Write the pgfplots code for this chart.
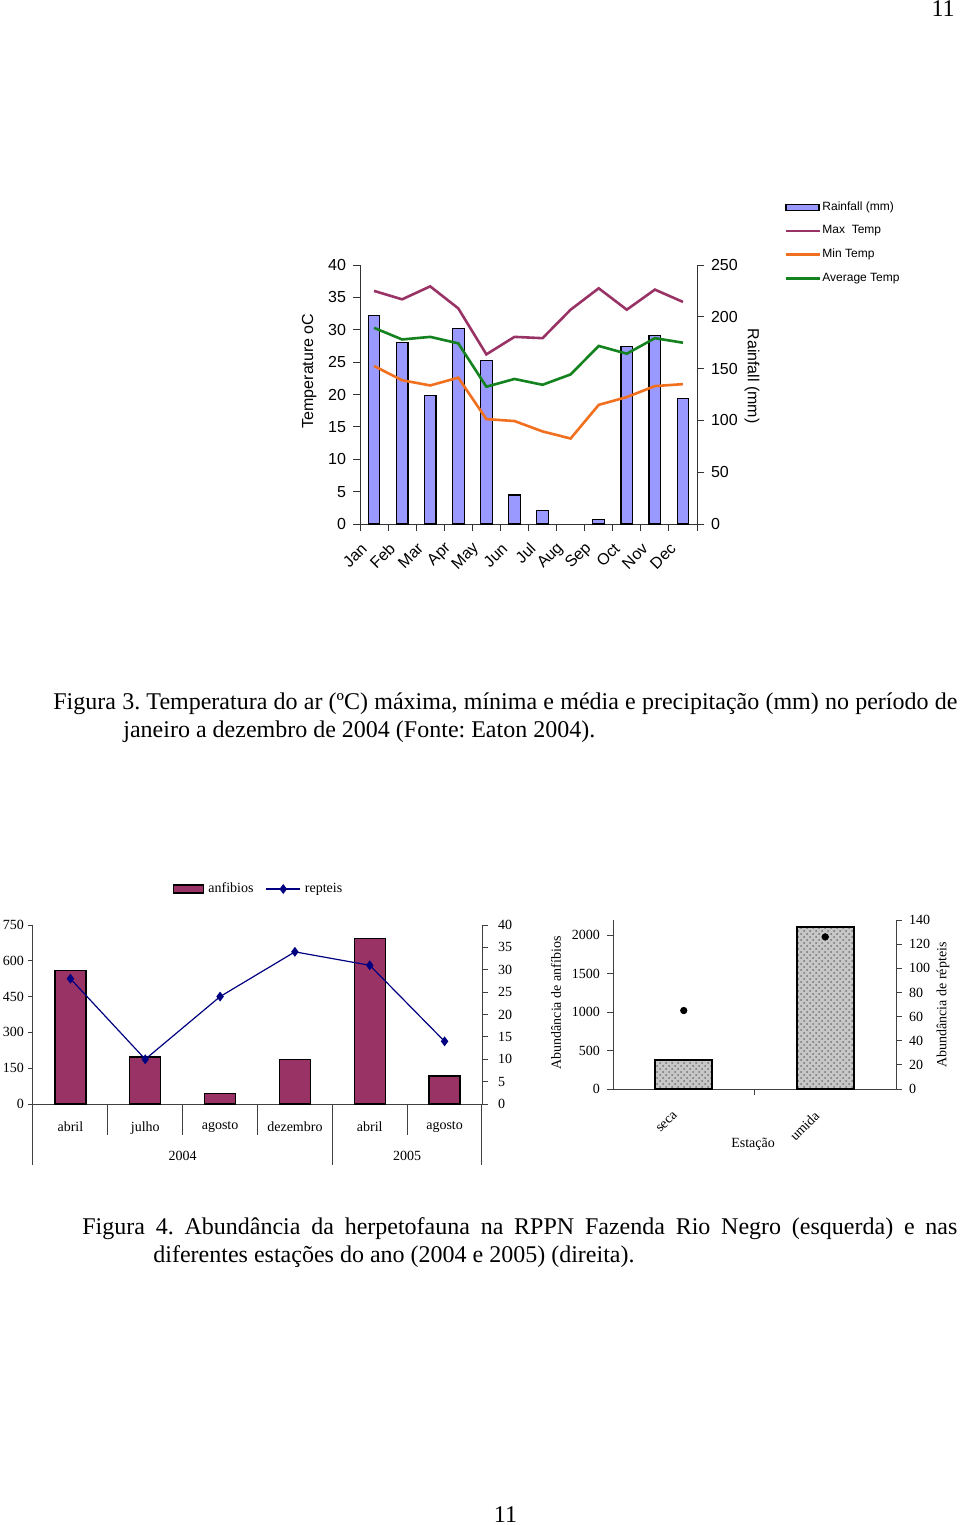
\documentclass[border=0pt]{standalone}
\usepackage{fontspec}
\setmainfont{Liberation Serif}
\newfontfamily\arial{Liberation Sans}
\usepackage{pgfplots}
\pgfplotsset{compat=1.18}
\usetikzlibrary{patterns}

\definecolor{barblue}{RGB}{153,153,255}
\definecolor{maxc}{RGB}{153,51,102}
\definecolor{minc}{RGB}{240,112,32}
\definecolor{avgc}{RGB}{20,130,30}
\definecolor{anfib}{RGB}{153,51,102}
\definecolor{rept}{RGB}{0,0,128}

\newcommand{\af}{\arial\fontsize{8}{9.6}\selectfont}
\newcommand{\tf}{\fontsize{7}{8.4}\selectfont}

\pgfplotsset{every axis/.append style={/pgf/number format/1000 sep={}}}

\begin{document}
\frenchspacing
\begin{tikzpicture}
\fill[white] (0,0) rectangle (480pt,-762.5pt);
\path[use as bounding box] (0,0) rectangle (480pt,-762.5pt);

% ---------- Figura 3: rainfall bars (right axis)
\begin{axis}[
  at={(180pt,-262pt)}, anchor=south west, scale only axis,
  width=168.5pt, height=129.5pt,
  xmin=0.5, xmax=12.5, ymin=0, ymax=250,
  ybar, bar width=5.85pt,
  axis x line*=bottom, axis y line*=right,
  axis line style={black!80, line width=0.5pt},
  tick align=outside, major tick length=3.5pt, minor tick length=3.5pt,
  every tick/.style={black!80, line width=0.5pt},
  ytick={0,50,...,250},
  xtick={1,...,12},
  xticklabels={Jan,Feb,Mar,Apr,May,Jun,Jul,Aug,Sep,Oct,Nov,Dec},
  minor xtick={0.5,1.5,...,12.5},
  major x tick style={draw=none},
  xticklabel style={rotate=45, anchor=east, font=\af, xshift=-5.3pt, yshift=-1.8pt},
  yticklabel style={font=\af},
  /pgf/number format/assume math mode=true,
  ylabel={Rainfall (mm)},
  ylabel style={at={(axis description cs:1.163,0.571)}, anchor=center, rotate=180, font=\af},
]
% August had no rainfall (0 mm) and shows no bar
\addplot[fill=barblue, draw=black, line width=0.6pt] coordinates {
  (1,201) (2,175) (3,124) (4,189) (5,158) (6,28)
  (7,13) (9,4) (10,171) (11,182) (12,121)};
\end{axis}

% ---------- Figura 3: temperature lines (left axis)
\begin{axis}[
  at={(180pt,-262pt)}, anchor=south west, scale only axis,
  width=168.5pt, height=129.5pt,
  xmin=0.5, xmax=12.5, ymin=0, ymax=40,
  axis x line=none, axis y line*=left,
  axis line style={black!80, line width=0.5pt},
  tick align=outside, major tick length=3.5pt,
  every tick/.style={black!80, line width=0.5pt},
  ytick={0,5,...,40},
  yticklabel style={font=\af},
  /pgf/number format/assume math mode=true,
  ylabel={Temperature oC},
  ylabel style={at={(axis description cs:-0.151,0.591)}, anchor=center, font=\af},
  legend style={at={(axis description cs:1.259,1.262)}, anchor=north west,
    draw=none, fill=none, font=\arial\fontsize{6}{7}\selectfont,
    row sep=2.1pt, inner sep=0pt,
    /tikz/every odd column/.append style={column sep=-1.5pt}},
  legend cell align=left,
]
\addlegendimage{legend image code/.code={\draw[fill=barblue, draw=black, line width=0.6pt] (0pt,-1.6pt) rectangle (16.5pt,1.6pt);}}
\addlegendentry{Rainfall (mm)}
\addplot[maxc, line width=1.3pt] coordinates {
  (1,36.0) (2,34.7) (3,36.7) (4,33.3) (5,26.2) (6,28.9)
  (7,28.7) (8,33.1) (9,36.4) (10,33.1) (11,36.2) (12,34.3)};
\addlegendentry{Max\ \ Temp}
\addplot[minc, line width=1.3pt] coordinates {
  (1,24.4) (2,22.2) (3,21.4) (4,22.6) (5,16.2) (6,15.9)
  (7,14.3) (8,13.2) (9,18.4) (10,19.6) (11,21.3) (12,21.6)};
\addlegendentry{Min Temp}
\addplot[avgc, line width=1.3pt] coordinates {
  (1,30.3) (2,28.5) (3,28.9) (4,27.9) (5,21.2) (6,22.4)
  (7,21.5) (8,23.1) (9,27.5) (10,26.3) (11,28.7) (12,28.0)};
\addlegendentry{Average Temp}
\end{axis}

\node[anchor=base west, inner sep=0pt, font=\fontsize{12}{14}\selectfont] at (26.5pt,-354.5pt)
  {\parbox[t]{452pt}{\hangindent=35pt\hangafter=1 Figura 3. Temperatura do ar (ºC) máxima, mínima e média e precipitação (mm) no período de\linebreak janeiro a dezembro de 2004 (Fonte: Eaton 2004).}};

% ---------- Figura 4 left: anfibios bars
\begin{axis}[
  at={(16.5pt,-552pt)}, anchor=south west, scale only axis,
  width=224.5pt, height=89.5pt,
  xmin=0.5, xmax=6.5, ymin=0, ymax=750,
  ybar, bar width=15.5pt, clip=false,
  axis x line*=bottom, axis y line*=left,
  axis line style={black!75, line width=0.5pt},
  tick align=outside, major tick length=2.5pt,
  every tick/.style={black!75, line width=0.5pt},
  ytick={0,150,...,750},
  xtick={1,...,6},
  xticklabels={abril,julho,agosto,dezembro,abril,agosto},
  major x tick style={draw=none},
  xticklabel style={font=\tf, anchor=north, yshift=-3pt},
  yticklabel style={font=\tf, xshift=1.5pt},
  /pgf/number format/assume math mode=true,
]
\addplot[fill=anfib, draw=black, line width=0.6pt] coordinates {
  (1,560) (2,197) (3,43) (4,188) (5,694) (6,117)};
\draw[black!75, line width=0.5pt]
  (axis cs:1.5,0) -- ++(0pt,-15.5pt)
  (axis cs:2.5,0) -- ++(0pt,-15.5pt)
  (axis cs:3.5,0) -- ++(0pt,-15.5pt)
  (axis cs:5.5,0) -- ++(0pt,-15.5pt)
  (axis cs:0.5,0) -- ++(0pt,-30.5pt)
  (axis cs:4.5,0) -- ++(0pt,-30.5pt)
  (axis cs:6.5,0) -- ++(0pt,-30.5pt);
\node[font=\tf] at ([yshift=-26pt]axis cs:2.5,0) {2004};
\node[font=\tf] at ([yshift=-26pt]axis cs:5.5,0) {2005};
\end{axis}

% ---------- Figura 4 left: repteis line
\begin{axis}[
  at={(16.5pt,-552pt)}, anchor=south west, scale only axis,
  width=224.5pt, height=89.5pt,
  xmin=0.5, xmax=6.5, ymin=0, ymax=40,
  axis x line=none, axis y line*=right,
  axis line style={black!75, line width=0.5pt},
  tick align=outside, major tick length=3pt,
  every tick/.style={black!75, line width=0.5pt},
  ytick={0,5,...,40},
  yticklabel style={font=\tf, xshift=1.5pt},
  /pgf/number format/assume math mode=true,
  legend style={at={(axis description cs:0.505,1.201)}, anchor=center,
    draw=none, fill=none, font=\tf, legend columns=2, inner sep=0pt,
    /tikz/every even column/.append style={column sep=4pt}},
]
\addlegendimage{legend image code/.code={\draw[fill=anfib, draw=black, line width=0.6pt] (0pt,-2pt) rectangle (15pt,2pt);}}
\addlegendentry{anfibios}
\addplot[rept, line width=0.6pt, mark=diamond*, mark size=2pt] coordinates {
  (1,28) (2,10) (3,24) (4,34) (5,31) (6,14)};
\addlegendentry{repteis}
\end{axis}

% ---------- Figura 4 right: anfibios by season
\begin{axis}[
  at={(306.5pt,-544.5pt)}, anchor=south west, scale only axis,
  width=141.5pt, height=84.5pt,
  xmin=0.5, xmax=2.5, ymin=0, ymax=2200,
  ybar, bar width=28.5pt,
  axis x line*=bottom, axis y line*=left,
  axis line style={black!75, line width=0.5pt},
  tick align=outside, major tick length=3pt, minor tick length=3pt,
  every tick/.style={black!75, line width=0.5pt},
  ytick={0,500,...,2000},
  xtick={1,2}, xticklabels={seca,umida},
  minor xtick={1.5},
  major x tick style={draw=none},
  xticklabel style={font=\tf, rotate=45, anchor=east, xshift=-6pt, yshift=-3.6pt},
  yticklabel style={font=\tf},
  /pgf/number format/assume math mode=true,
  xlabel={Estação},
  xlabel style={at={(axis description cs:0.495,-0.325)}, anchor=center, font=\tf},
  ylabel={Abundância de anfíbios},
  ylabel style={at={(axis description cs:-0.201,0.509)}, anchor=center, font=\tf},
]
\addplot[fill=black!22, draw=black, line width=0.8pt,
  postaction={pattern=crosshatch dots, pattern color=black!55}] coordinates {
  (1,380) (2,2110)};
\end{axis}

% ---------- Figura 4 right: repteis by season
\begin{axis}[
  at={(306.5pt,-544.5pt)}, anchor=south west, scale only axis,
  width=141.5pt, height=84.5pt,
  xmin=0.5, xmax=2.5, ymin=0, ymax=140,
  axis x line=none, axis y line*=right,
  axis line style={black!75, line width=0.5pt},
  tick align=outside, major tick length=3pt,
  every tick/.style={black!75, line width=0.5pt},
  ytick={0,20,...,140},
  yticklabel style={font=\tf},
  /pgf/number format/assume math mode=true,
  ylabel={Abundância de répteis},
  ylabel style={at={(axis description cs:1.166,0.497)}, anchor=center, font=\tf},
]
\addplot[only marks, mark=*, mark size=1.6pt, black] coordinates {(1,65) (2,126)};
\end{axis}

\node[anchor=base west, inner sep=0pt, font=\fontsize{12}{14}\selectfont] at (41pt,-617pt)
  {\parbox[t]{437.5pt}{\hangindent=35.5pt\hangafter=1 Figura 4. Abundância da herpetofauna na RPPN Fazenda Rio Negro (esquerda) e nas\linebreak diferentes estações do ano (2004 e 2005) (direita).}};

\node[anchor=base east, inner sep=0pt, font=\fontsize{12}{14}\selectfont] at (477.5pt,-8.5pt) {11};
\node[anchor=base, inner sep=0pt, font=\fontsize{12}{14}\selectfont] at (252.75pt,-761pt) {11};
\end{tikzpicture}
\end{document}
